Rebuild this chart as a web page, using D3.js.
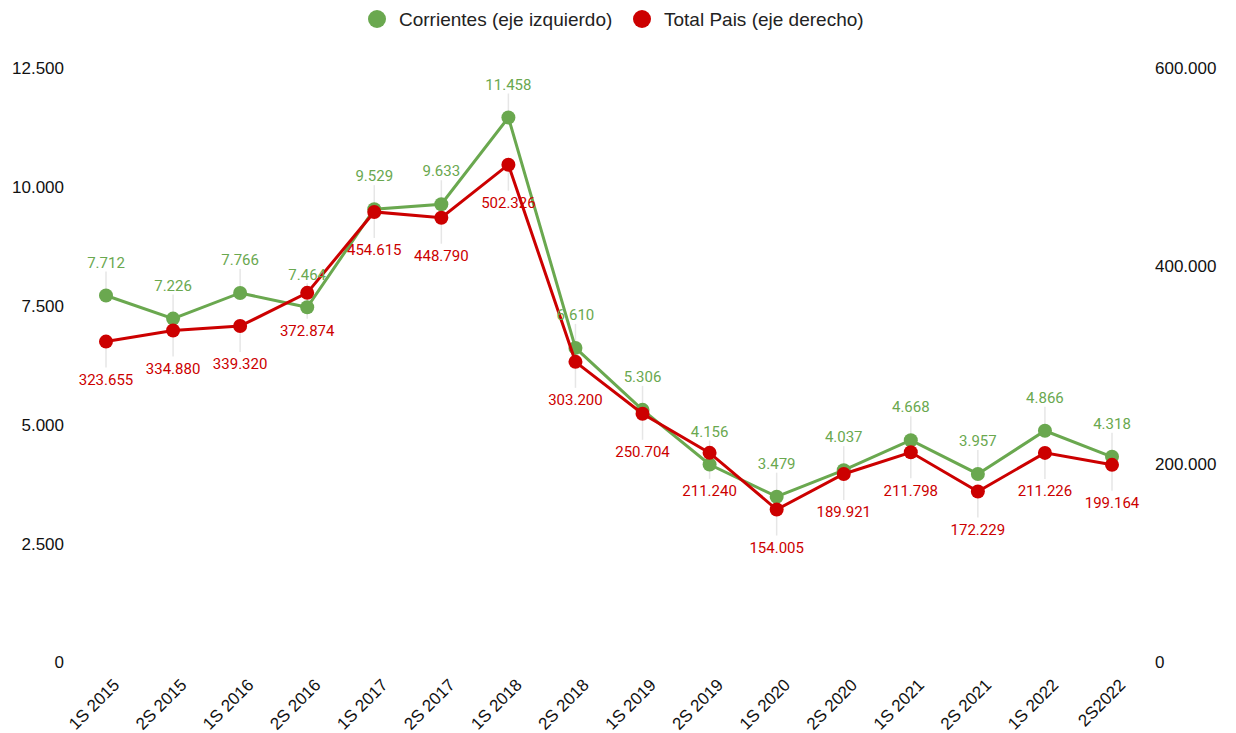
<!DOCTYPE html>
<html>
<head>
<meta charset="utf-8">
<script src="https://cdn.jsdelivr.net/npm/d3@7"></script>
<style>
  body { margin: 0; background: #fff; }
  svg { display: block; }
  .axis text { font-family: "Liberation Sans", Arial, sans-serif; fill: #111; }
  .lbl { font-family: Roboto, sans-serif; font-size: 15px; text-anchor: middle; }
</style>
</head>
<body>
<svg width="1236" height="733"></svg>
<script>
// chart data
var periods = ["1S 2015", "2S 2015", "1S 2016", "2S 2016", "1S 2017", "2S 2017", "1S 2018", "2S 2018",
               "1S 2019", "2S 2019", "1S 2020", "2S 2020", "1S 2021", "2S 2021", "1S 2022", "2S2022"];
var corrientes = [7712, 7226, 7766, 7464, 9529, 9633, 11458, 6610, 5306, 4156, 3479, 4037, 4668, 3957, 4866, 4318];
var totalPais = [323655, 334880, 339320, 372874, 454615, 448790, 502326, 303200, 250704, 211240, 154005,
                 189921, 211798, 172229, 211226, 199164];
var leftTicks = [0, 2500, 5000, 7500, 10000, 12500];
var rightTicks = [0, 200000, 400000, 600000];
var seriesNames = ["Corrientes (eje izquierdo)", "Total Pais (eje derecho)"];

var green = "#6aa84f";
var red = "#cc0000";

var svg = d3.select("svg");

// number format with dot as thousands separator
var locale = d3.formatLocale({ decimal: ",", thousands: ".", grouping: [3], currency: ["$", ""] });
var fmt = locale.format(",d");

var x = d3.scalePoint().domain(periods).range([106, 1112]);
var yL = d3.scaleLinear().domain([0, 12500]).range([662, 68]);
var yR = d3.scaleLinear().domain([0, 600000]).range([662, 68]);

// left axis
var leftAxis = svg.append("g")
  .attr("class", "axis")
  .attr("transform", "translate(64,0)")
  .call(d3.axisLeft(yL).tickValues(leftTicks).tickFormat(fmt).tickSize(0).tickPadding(0));
leftAxis.select(".domain").remove();
leftAxis.selectAll("text").style("font-size", "17px").attr("dy", "0.35em");

// right axis
var rightAxis = svg.append("g")
  .attr("class", "axis")
  .attr("transform", "translate(1155,0)")
  .call(d3.axisRight(yR).tickValues(rightTicks).tickFormat(fmt).tickSize(0).tickPadding(0));
rightAxis.select(".domain").remove();
rightAxis.selectAll("text").style("font-size", "17px").attr("dy", "0.35em");

// bottom axis with rotated labels
var bottom = svg.append("g")
  .attr("class", "axis")
  .attr("transform", "translate(0,662)")
  .call(d3.axisBottom(x).tickSize(0).tickPadding(0));
bottom.select(".domain").remove();
bottom.selectAll("text")
  .style("font-size", "17px")
  .style("text-anchor", "end")
  .attr("dy", "0")
  .attr("y", 0)
  .attr("transform", "translate(14,24) rotate(-45)");

var series = [
  { name: seriesNames[0], values: corrientes, y: yL, color: green, above: true },
  { name: seriesNames[1], values: totalPais, y: yR, color: red, above: false }
];

// leader lines for labels
series.forEach(function(s) {
  svg.append("g").selectAll("line")
    .data(s.values)
    .enter()
    .append("line")
    .attr("x1", function(d, i) { return x(periods[i]); })
    .attr("x2", function(d, i) { return x(periods[i]); })
    .attr("y1", function(d) { return s.y(d); })
    .attr("y2", function(d) { return s.above ? s.y(d) - 24 : s.y(d) + 26; })
    .style("stroke", "#e6e6e6")
    .style("stroke-width", 1.5);
});

// lines and points
series.forEach(function(s) {
  var line = d3.line()
    .x(function(d, i) { return x(periods[i]); })
    .y(function(d) { return s.y(d); });

  svg.append("path")
    .datum(s.values)
    .attr("d", line)
    .style("fill", "none")
    .style("stroke", s.color)
    .style("stroke-width", 3);

  svg.append("g").selectAll("circle")
    .data(s.values)
    .enter()
    .append("circle")
    .attr("cx", function(d, i) { return x(periods[i]); })
    .attr("cy", function(d) { return s.y(d); })
    .attr("r", 7)
    .style("fill", s.color);
});

// data labels
series.forEach(function(s) {
  svg.append("g").selectAll("text")
    .data(s.values)
    .enter()
    .append("text")
    .attr("class", "lbl")
    .attr("x", function(d, i) { return x(periods[i]); })
    .attr("y", function(d) { return s.above ? s.y(d) - 33 : s.y(d) + 38; })
    .attr("dy", "0.35em")
    .style("fill", s.color)
    .text(function(d) { return fmt(d); });
});

// legend
var legendX = [377, 642];
var legend = svg.append("g").selectAll("g")
  .data(series)
  .enter()
  .append("g")
  .attr("transform", function(d, i) { return "translate(" + legendX[i] + ",19)"; });
legend.append("circle")
  .attr("r", 9)
  .style("fill", function(d) { return d.color; });
legend.append("text")
  .attr("x", 22)
  .attr("dy", "0.35em")
  .style("font-family", "Liberation Sans, Arial, sans-serif")
  .style("font-size", "19px")
  .style("fill", "#222")
  .text(function(d) { return d.name; });
</script>
</body>
</html>
